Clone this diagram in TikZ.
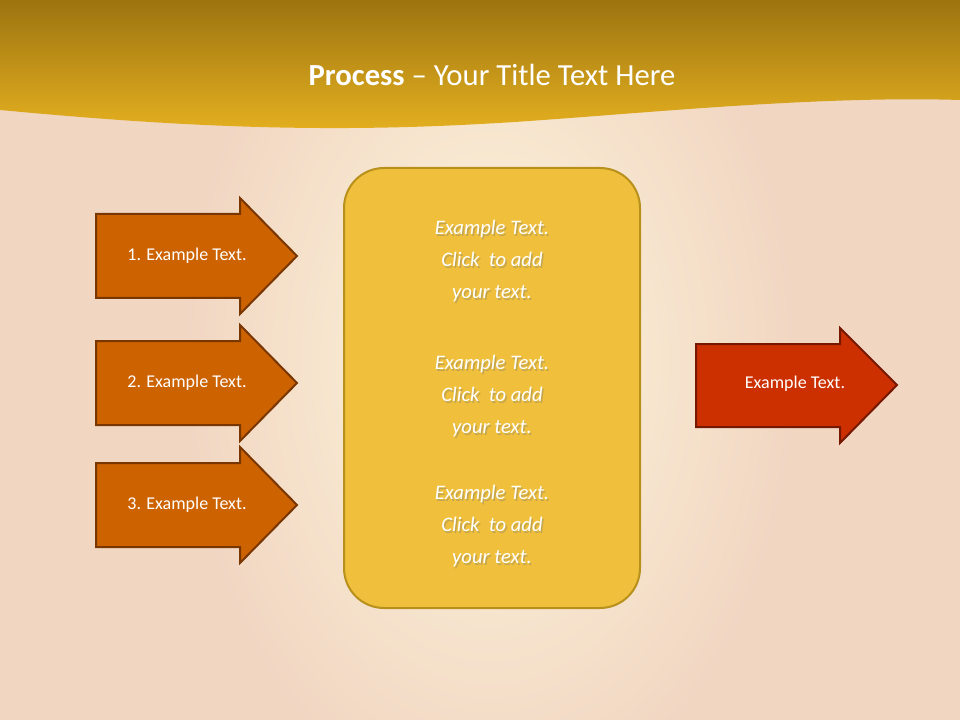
\documentclass[tikz,border=0pt]{standalone}
\usepackage{fontspec}
\setmainfont{Carlito}
\usetikzlibrary{shadings}
\definecolor{bgpeach}{HTML}{F1D6C2}
\definecolor{bglight}{HTML}{FEF6DC}
\definecolor{goldtop}{HTML}{9C7410}
\definecolor{goldbot}{HTML}{E6B120}
\definecolor{orangeA}{HTML}{CC6200}
\definecolor{orangeB}{HTML}{7A3600}
\definecolor{redA}{HTML}{CC3000}
\definecolor{redB}{HTML}{761800}
\definecolor{boxfill}{HTML}{F0C03C}
\definecolor{boxline}{HTML}{B8901C}
\tikzset{
  arrowshape/.style={draw=orangeB, line width=1.5pt, fill=orangeA},
  redarrow/.style={draw=redB, line width=1.5pt, fill=redA},
  arrowtext/.style={text=white, font=\fontsize{13.5}{16}\selectfont, anchor=center},
  boxtext/.style={text=white, font=\itshape\fontsize{15.5}{24}\selectfont, align=center},
  shadowtext/.style={text=black!55, font=\itshape\fontsize{15.5}{24}\selectfont, align=center, opacity=0.35}
}
\begin{document}
\begin{tikzpicture}[x=0.75pt,y=-0.75pt]
\useasboundingbox (0,0) rectangle (960,720);
% background
\fill[bgpeach] (0,0) rectangle (960,720);
\shade[inner color=bglight, outer color=bgpeach] (180,-100) rectangle (800,820);
% header band
\shade[top color=goldtop, bottom color=goldbot]
  (0,0) -- (960,0) -- (960,100) .. controls (800,95) and (600,118) .. (480,124)
  .. controls (300,134) and (150,124) .. (0,110) -- cycle;
\node[text=white, font=\fontsize{23}{28}\selectfont] (title) at (492,75)
  {\textbf{Process} -- Your Title Text Here};
% left arrows
\foreach \n/\yc/\lab in {a/256/1. Example Text., b/383/2. Example Text., c/505/3. Example Text.}{
  \draw[arrowshape] (96,\yc-42) -- (240,\yc-42) -- (240,\yc-58) -- (297,\yc) -- (240,\yc+58)
    -- (240,\yc+42) -- (96,\yc+42) -- cycle;
  \node[arrowtext] (arr\n) at (187,\yc) {\lab};
}
% central box
\draw[fill=boxfill, draw=boxline, line width=1.5pt, rounded corners=30pt] (344,168) rectangle (640,608);
\node (box) at (492,388) {};
\foreach \n/\yc in {1/261,2/396,3/526}{
  \node[shadowtext] at (493.5,\yc+1.5) {Example Text.\\Click\ \ to add\\your text.};
  \node[boxtext] (bt\n) at (492,\yc) {Example Text.\\Click\ \ to add\\your text.};
}
% right arrow
\draw[redarrow] (696,344) -- (840,344) -- (840,328) -- (897,385) -- (840,443) -- (840,427) -- (696,427) -- cycle;
\node[arrowtext] (out) at (795,384) {Example Text.};
\end{tikzpicture}
\end{document}
